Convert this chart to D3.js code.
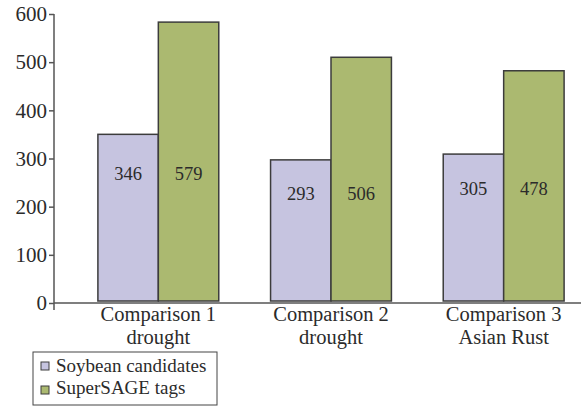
<!DOCTYPE html>
<html>
<head>
<meta charset="utf-8">
<script src="https://cdn.jsdelivr.net/npm/d3@7"></script>
<style>
  body { margin: 0; background: #fff; }
  svg text { font-family: "Liberation Serif", "Times New Roman", serif; fill: #2b2b2b; }
</style>
</head>
<body>
<div id="chart"></div>
<script>
var categories = ["Comparison 1|drought", "Comparison 2|drought", "Comparison 3|Asian Rust"];
var series_names = ["Soybean candidates", "SuperSAGE tags"];
var soybean_values = [346, 293, 305];
var supersage_values = [579, 506, 478];
var y_ticks = [0, 100, 200, 300, 400, 500, 600];
var colours = ["#c6c4e0", "#abb970"];

function draw_chart() {
    var width = 581, height = 406;

    var svg = d3.select("#chart")
        .append("svg")
        .attr("width", width)
        .attr("height", height);

    var x = d3.scaleBand()
        .domain(categories)
        .range([72, 590])
        .paddingInner(0.3)
        .paddingOuter(0.15);

    var x_inner = d3.scaleBand()
        .domain(series_names)
        .range([0, x.bandwidth()]);

    var y = d3.scaleLinear()
        .domain([0, 600])
        .range([303, 14]);

    // y axis ticks + labels
    var y_axis = svg.append("g")
        .attr("class", "yaxis")
        .attr("transform", "translate(54,0)")
        .call(d3.axisLeft(y).tickValues(y_ticks).tickSizeInner(5).tickSizeOuter(0).tickPadding(2));
    y_axis.attr("font-family", null).attr("font-size", null);
    y_axis.select(".domain").remove();
    y_axis.selectAll("line").attr("stroke", "#555").attr("stroke-width", 1.5);
    y_axis.selectAll("text")
        .style("font-size", "21px")
        .attr("fill", "#2b2b2b");

    // axis lines (vertical one pokes a little below zero)
    svg.append("line")
        .attr("x1", 54).attr("x2", 54)
        .attr("y1", y(600)).attr("y2", y(0) + 7)
        .attr("stroke", "#555").attr("stroke-width", 1.5);
    svg.append("line")
        .attr("x1", 54).attr("x2", width)
        .attr("y1", y(0)).attr("y2", y(0))
        .attr("stroke", "#555").attr("stroke-width", 1.5);

    var rows = categories.map(function (c, i) {
        return { cat: c, values: [soybean_values[i], supersage_values[i]] };
    });

    // bars sit just above the axis line
    var base = y(0) - 2;

    var groups = svg.selectAll(".grp")
        .data(rows)
        .enter()
        .append("g")
        .attr("class", "grp")
        .attr("transform", function (d) { return "translate(" + x(d.cat) + ",0)"; });

    groups.selectAll("rect")
        .data(function (d) { return d.values.map(function (v, j) { return { s: series_names[j], v: v, j: j }; }); })
        .enter()
        .append("rect")
        .attr("x", function (d) { return x_inner(d.s); })
        .attr("y", function (d) { return base - (y(0) - y(d.v)); })
        .attr("width", x_inner.bandwidth())
        .attr("height", function (d) { return y(0) - y(d.v); })
        .style("fill", function (d) { return colours[d.j]; })
        .style("stroke", "#3c3c3c")
        .style("stroke-width", 1.5);

    // value labels, placed a bit below the top of the first bar
    groups.each(function (d) {
        var top = base - (y(0) - y(d.values[0]));
        var ly = top + (base - top) * 0.24 + 6;
        var g = d3.select(this);
        d.values.forEach(function (v, j) {
            g.append("text")
                .attr("class", "val")
                .attr("x", x_inner(series_names[j]) + x_inner.bandwidth() / 2)
                .attr("y", ly)
                .attr("text-anchor", "middle")
                .style("font-size", "18.5px")
                .text(v);
        });
    });

    // category labels (two lines)
    svg.selectAll(".cat")
        .data(categories)
        .enter()
        .append("text")
        .attr("class", "cat")
        .attr("text-anchor", "middle")
        .style("font-size", "20.5px")
        .each(function (d) {
            var parts = d.split("|");
            var t = d3.select(this);
            var cx = x(d) + x.bandwidth() / 2;
            parts.forEach(function (p, k) {
                t.append("tspan")
                    .attr("x", cx)
                    .attr("y", 321 + k * 23)
                    .text(p);
            });
        });

    // legend
    var legend = svg.append("g").attr("class", "legend");
    legend.append("rect")
        .attr("x", 33).attr("y", 352)
        .attr("width", 184).attr("height", 53)
        .style("fill", "#fff")
        .style("stroke", "#444")
        .style("stroke-width", 1);

    series_names.forEach(function (name, i) {
        legend.append("rect")
            .attr("x", 41).attr("y", 362 + i * 24)
            .attr("width", 8).attr("height", 8)
            .style("fill", colours[i])
            .style("stroke", "#3c3c3c")
            .style("stroke-width", 1);
        legend.append("text")
            .attr("class", "leg")
            .attr("x", 56).attr("y", 372 + i * 22)
            .style("font-size", "19px")
            .text(name);
    });
}

draw_chart();
</script>
</body>
</html>
